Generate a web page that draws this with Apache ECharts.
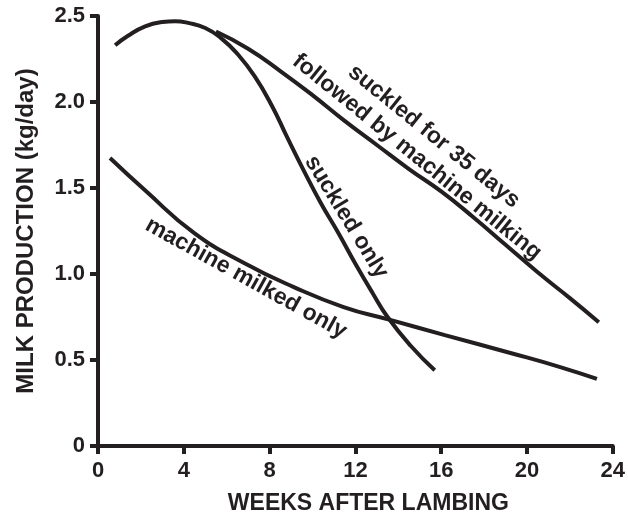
<!DOCTYPE html>
<html><head><meta charset="utf-8">
<script src="https://cdn.jsdelivr.net/npm/echarts@6/dist/echarts.min.js"></script>
<style>html,body{margin:0;padding:0;background:#fff}#c{width:628px;height:521px}</style>
</head><body><div id="c"></div>
<script>
// ---- data ----
const xTicks = [0, 4, 8, 12, 16, 20, 24];
const yTicks = [0, 0.5, 1.0, 1.5, 2.0, 2.5];

const suckledOnlyWeeks = [0.8, 1.4, 2.2, 3.0, 3.6, 4.2, 5.0, 5.75, 6.5, 7.3, 8.1, 8.8, 9.6, 10.4, 11.2, 12.0, 12.8, 13.5, 14.6, 15.7];
const suckledOnlyMilk  = [2.33, 2.385, 2.44, 2.465, 2.47, 2.46, 2.43, 2.37, 2.28, 2.15, 1.98, 1.80, 1.60, 1.41, 1.24, 1.06, 0.89, 0.75, 0.58, 0.44];

const suckled35Weeks = [5.5, 7.0, 8.5, 10.0, 11.5, 13.0, 14.5, 16.0, 17.5, 19.0, 20.5, 22.0, 23.35];
const suckled35Milk  = [2.41, 2.31, 2.18, 2.04, 1.89, 1.75, 1.61, 1.48, 1.33, 1.17, 1.01, 0.86, 0.72];

const machineWeeks = [0.56, 2.18, 4.49, 6.81, 9.13, 11.45, 13.62, 16.17, 19.23, 21.55, 23.26];
const machineMilk  = [1.674, 1.488, 1.238, 1.064, 0.924, 0.808, 0.733, 0.645, 0.541, 0.459, 0.39];

const annotLabels = ['suckled for 35 days', 'followed by machine milking', 'suckled only', 'machine milked only'];
const annotWeeks  = [15.66, 14.87, 11.58, 6.9];
const annotMilk   = [1.80, 1.68, 1.331, 0.975];
const annotAngles = [-39, -39, -58.5, -29];

// ---- chart ----
const INK = '#231f20';
const FONT = '"Liberation Sans", Arial, sans-serif';
const zip = (xs, ys) => xs.map((x, i) => [x, ys[i]]);

const lineSeries = (data) => ({
  type: 'line', data, smooth: true, symbol: 'none', silent: true,
  lineStyle: { color: INK, width: 4, cap: 'butt', opacity: 1 }, z: 3
});

const chart = echarts.init(document.getElementById('c'), null, { renderer: 'canvas' });
chart.setOption({
  animation: false,
  backgroundColor: '#fff',
  grid: { left: 98, right: 12, top: 16, bottom: 75, containLabel: false },
  xAxis: {
    type: 'value', min: xTicks[0], max: xTicks[xTicks.length - 1], interval: xTicks[1] - xTicks[0],
    name: 'WEEKS AFTER LAMBING', nameLocation: 'middle', nameGap: 46,
    nameTextStyle: { fontSize: 23, fontWeight: 'bold', color: INK, fontFamily: FONT, padding: [0, 0, 0, 26] },
    axisLine: { show: true, onZero: false, lineStyle: { color: INK, width: 4 } },
    axisTick: { show: true, length: 8, lineStyle: { color: INK, width: 4 } },
    axisLabel: { fontSize: 22, fontWeight: 'bold', color: INK, fontFamily: FONT, margin: 14 },
    splitLine: { show: false }
  },
  yAxis: {
    type: 'value', min: yTicks[0], max: yTicks[yTicks.length - 1], interval: yTicks[1] - yTicks[0],
    name: 'MILK PRODUCTION (kg/day)', nameLocation: 'middle', nameGap: 60, nameRotate: 90,
    nameTextStyle: { fontSize: 24, fontWeight: 'bold', color: INK, fontFamily: FONT },
    axisLine: { show: true, onZero: false, lineStyle: { color: INK, width: 4 } },
    axisTick: { show: true, length: 8, lineStyle: { color: INK, width: 4 } },
    axisLabel: { fontSize: 22, fontWeight: 'bold', color: INK, fontFamily: FONT, margin: 13,
      formatter: v => v === 0 ? '0' : v.toFixed(1) },
    splitLine: { show: false }
  },
  series: [
    lineSeries(zip(suckledOnlyWeeks, suckledOnlyMilk)),
    lineSeries(zip(suckled35Weeks, suckled35Milk)),
    lineSeries(zip(machineWeeks, machineMilk)),
    {
      type: 'scatter', silent: true, symbolSize: 0, z: 4,
      itemStyle: { opacity: 1, color: INK },
      data: annotLabels.map((t, i) => ({
        value: [annotWeeks[i], annotMilk[i]],
        label: { show: true, position: 'inside', formatter: t, rotate: annotAngles[i],
          fontSize: 23, fontWeight: 'bold', color: INK, opacity: 1, fontFamily: FONT,
          align: 'center', verticalAlign: 'middle' }
      }))
    }
  ]
});
</script>
</body></html>
